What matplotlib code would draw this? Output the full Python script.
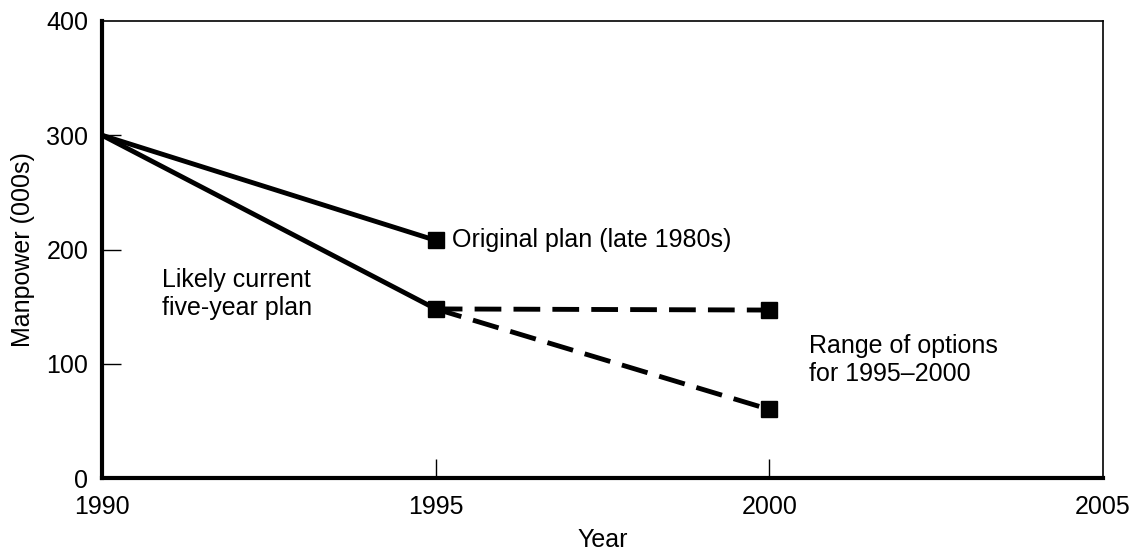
import matplotlib
matplotlib.use('Agg')
import matplotlib.pyplot as plt

plt.rcParams['font.family'] = ['Liberation Sans', 'DejaVu Sans']

# data
years_original = [1990, 1995]
original_plan = [300, 208]
years_current = [1990, 1995]
current_plan = [300, 148]
years_options = [1995, 2000]
option_high = [148, 147]
option_low = [148, 60]

x_ticks = [1990, 1995, 2000, 2005]
y_ticks = [0, 100, 200, 300, 400]

fig = plt.figure(figsize=(11.35, 5.52), dpi=100)
ax = fig.add_axes([0.0899, 0.134, 0.882, 0.828])

lw = 3.5
# solid lines
ax.plot(years_original, original_plan, color='black', lw=lw, solid_capstyle='butt')
ax.plot(years_current, current_plan, color='black', lw=lw, solid_capstyle='butt')
# dashed options
ax.plot(years_options, option_high, color='black', lw=lw, dashes=(5.5, 2.5))
ax.plot(years_options, option_low, color='black', lw=lw, dashes=(5.5, 2.5))

# square markers
ax.plot(years_original[1:], original_plan[1:], 's', color='black', ms=12)
ax.plot(years_current[1:], current_plan[1:], 's', color='black', ms=12)
ax.plot(years_options[1:], option_high[1:], 's', color='black', ms=12)
ax.plot(years_options[1:], option_low[1:], 's', color='black', ms=12)

# annotations
fs = 18
ax.text(1995.25, 208, 'Original plan (late 1980s)', fontsize=fs, va='center', ha='left')
ax.text(1990.9, 161, 'Likely current\nfive-year plan', fontsize=fs, va='center', ha='left',
        linespacing=1.2)
ax.text(2000.6, 103, 'Range of options\nfor 1995\u20132000', fontsize=fs, va='center', ha='left',
        linespacing=1.2)

ax.set_xlim(1990, 2005)
ax.set_ylim(0, 400)
ax.set_xticks(x_ticks)
ax.set_yticks(y_ticks)
ax.tick_params(direction='in', length=14, width=1, labelsize=fs)
ax.tick_params(axis='x', pad=12)
ax.tick_params(axis='y', pad=10)

# no tick marks at the axis ends
for t in [ax.xaxis.get_major_ticks()[0], ax.xaxis.get_major_ticks()[-1],
          ax.yaxis.get_major_ticks()[0], ax.yaxis.get_major_ticks()[-1]]:
    t.tick1line.set_visible(False)

ax.spines['left'].set_linewidth(3)
ax.spines['bottom'].set_linewidth(3)
ax.spines['top'].set_linewidth(1.2)
ax.spines['right'].set_linewidth(1.2)

ax.set_xlabel('Year', fontsize=fs, labelpad=7)
ax.set_ylabel('Manpower (000s)', fontsize=fs, labelpad=8)

fig.savefig('out.png', dpi=100)
